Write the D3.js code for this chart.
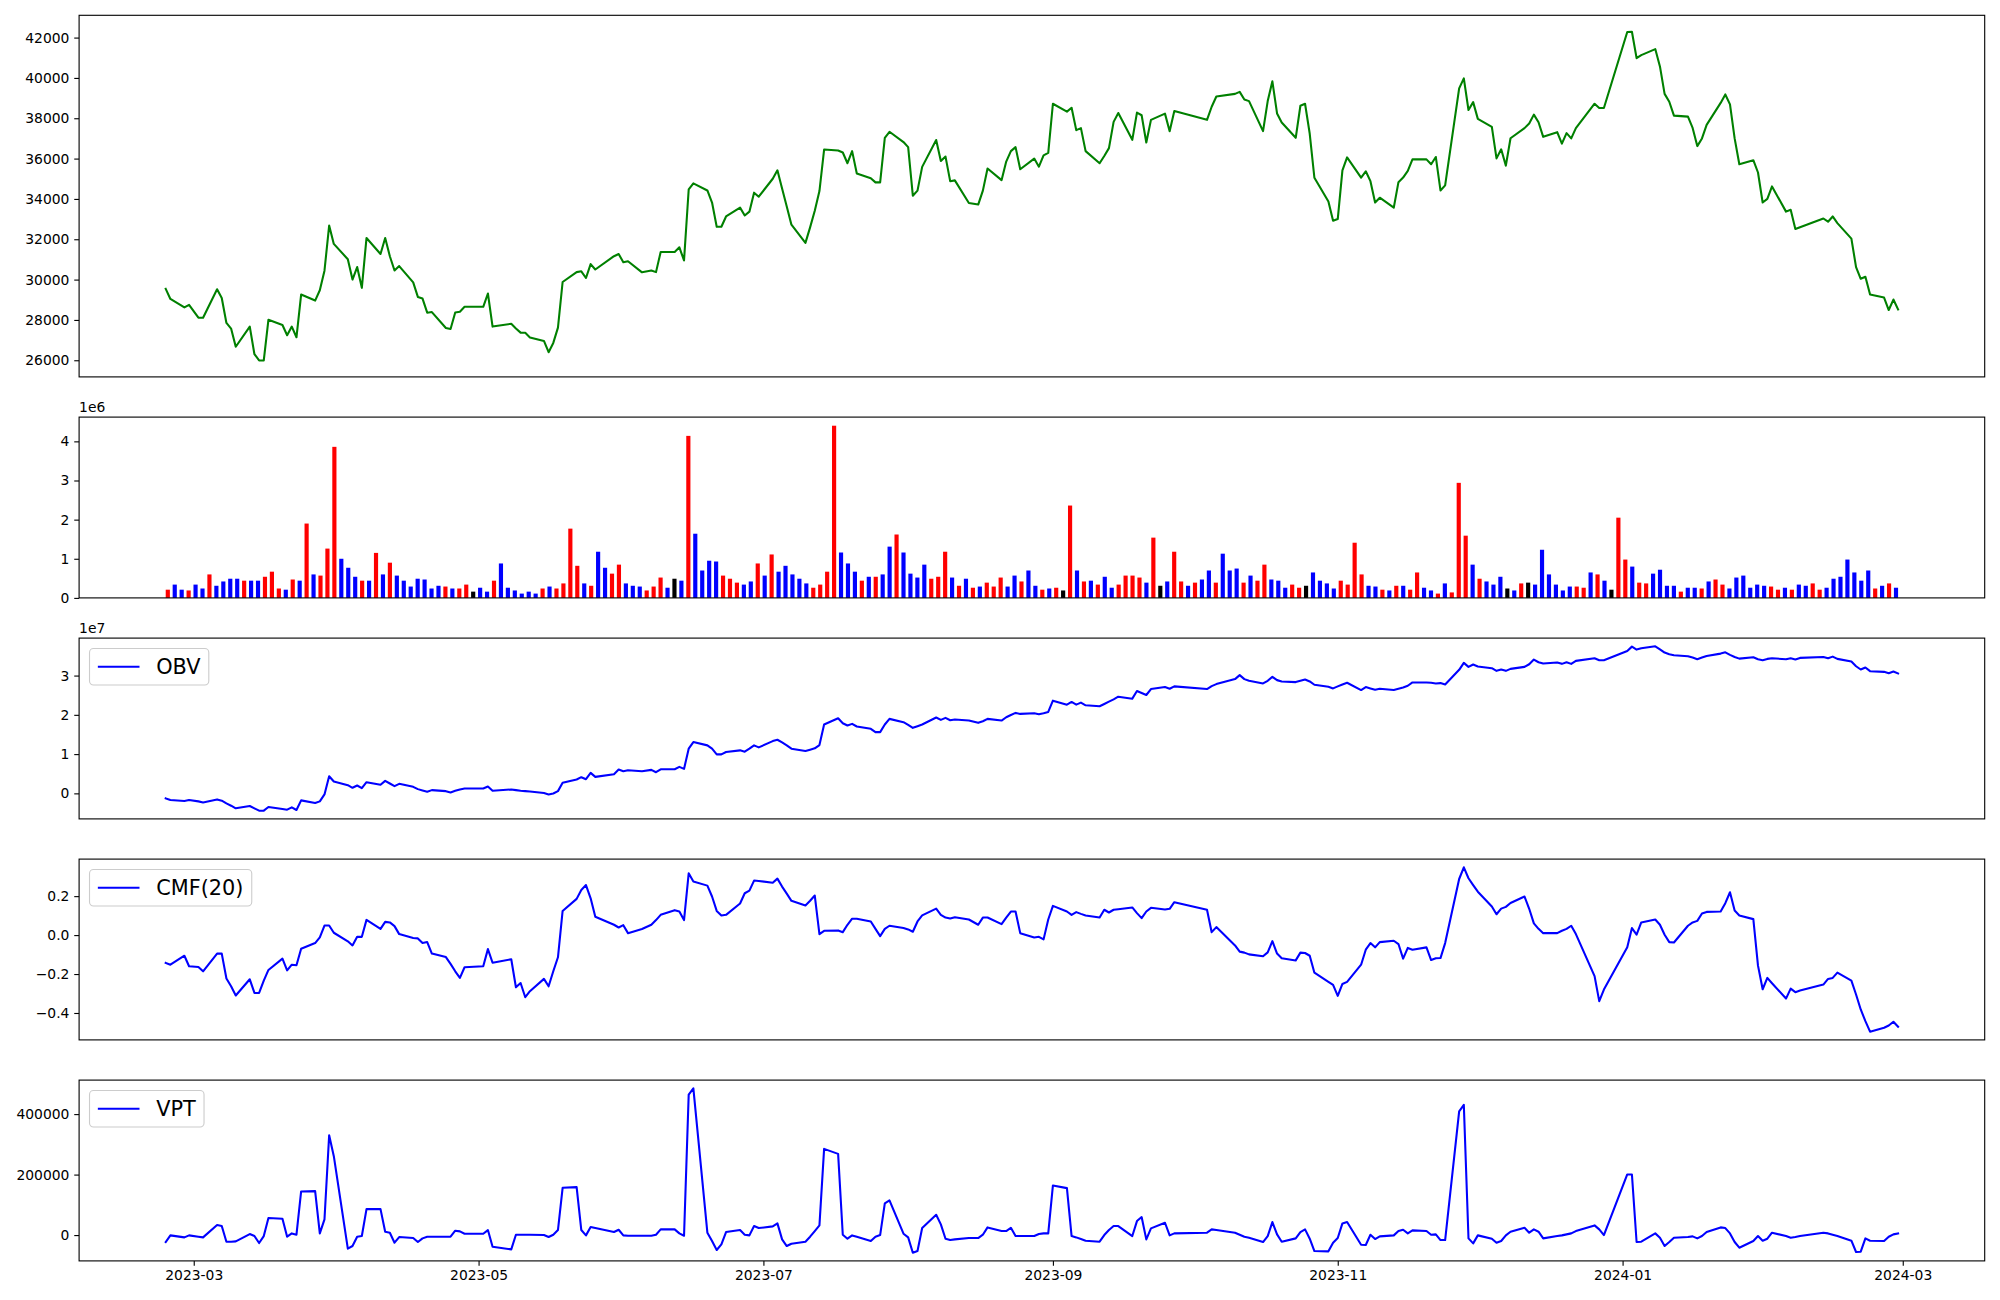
<!DOCTYPE html>
<html><head><meta charset="utf-8">
<script src="https://cdn.jsdelivr.net/npm/d3@7"></script>
<style>
body{margin:0;background:#fff}
svg{display:block}
text{font-family:"DejaVu Sans",sans-serif;fill:#000}
</style>
</head><body>
<svg id="c" width="2000" height="1300"></svg>
<script>
// ---------------- DATA ----------------
// trading days (KRX calendar) per month
const monthDays = [
 ["2023-02",[23,24,27,28]],
 ["2023-03",[2,3,6,7,8,9,10,13,14,15,16,17,20,21,22,23,24,27,28,29,30,31]],
 ["2023-04",[3,4,5,6,7,10,11,12,13,14,17,18,19,20,21,24,25,26,27,28]],
 ["2023-05",[2,3,4,8,9,10,11,12,15,16,17,18,19,22,23,24,25,26,30,31]],
 ["2023-06",[1,2,5,7,8,9,12,13,14,15,16,19,20,21,22,23,26,27,28,29,30]],
 ["2023-07",[3,4,5,6,7,10,11,12,13,14,17,18,19,20,21,24,25,26,27,28,31]],
 ["2023-08",[1,2,3,4,7,8,9,10,11,14,16,17,18,21,22,23,24,25,28,29,30,31]],
 ["2023-09",[1,4,5,6,7,8,11,12,13,14,15,18,19,20,21,22,25,26,27]],
 ["2023-10",[4,5,6,10,11,12,13,16,17,18,19,20,23,24,25,26,27,30,31]],
 ["2023-11",[1,2,3,6,7,8,9,10,13,14,15,16,17,20,21,22,23,24,27,28,29,30]],
 ["2023-12",[1,4,5,6,7,8,11,12,13,14,15,18,19,20,21,22,26,27,28]],
 ["2024-01",[2,3,4,5,8,9,10,11,12,15,16,17,18,19,22,23,24,25,26,29,30,31]],
 ["2024-02",[1,2,5,6,7,8,13,14,15,16,19,20,21,22,23,26,27,28,29]]
];

const closePrice = [
29540,29040,28620,28750,28110,28110,29520,29090,27850,27570,
26670,27670,26300,25990,25990,28010,27750,27240,27670,27140,
29260,28960,29470,30440,32680,31770,31010,30000,30620,29590,
32060,31270,32060,31160,30450,30670,29860,29140,29060,28360,
28390,27600,27550,28370,28410,28650,28650,29310,27670,27810,
27580,27370,27360,27130,26960,26400,26860,27620,29880,30370,
30410,30080,30770,30500,31160,31270,30860,30910,30360,30450,
30370,31370,31370,31600,30950,34470,34770,34420,33820,32620,
32620,33130,33570,33180,33370,34310,34110,35000,35420,34520,
33620,32720,31820,32590,33410,34390,36450,36400,36300,35770,
36370,35260,35030,34820,34820,37030,37330,36820,36570,34160,
34410,35590,36920,35880,36100,34880,34920,33800,33720,34410,
35510,34930,35850,36370,36570,35470,36000,35600,36160,36280,
38720,38330,38520,37410,37510,36370,35770,36130,36520,37820,
38260,36930,38280,38150,36800,37920,38230,37360,38360,37920,
38570,39080,39210,39310,38930,38850,37360,38850,39830,38240,
37790,37030,38620,38720,37230,35050,33870,32920,33000,35420,
36060,35060,35370,34880,33820,34060,33570,34830,35060,35390,
35960,35960,35720,36080,34420,34670,39480,39980,38410,38800,
37970,37570,36010,36460,35650,37010,37510,37740,38180,37800,
37080,37310,36740,37260,37000,37510,38720,38510,38510,42280,
42290,40980,41130,41430,40570,39210,38820,38130,38080,37520,
36620,37000,37670,38760,39180,38690,37000,35720,35920,35310,
33820,34000,34620,33370,33460,32510,32600,33030,32870,33130,
32800,32030,30620,30040,30140,29260,29110,28490,29010,28520
];

const volume = [
210000,340000,210000,190000,340000,240000,600000,310000,420000,490000,
490000,440000,440000,440000,540000,670000,240000,210000,470000,440000,
1900000,600000,570000,1260000,3860000,1000000,770000,540000,440000,440000,
1150000,600000,900000,570000,440000,290000,490000,470000,240000,310000,
290000,240000,240000,340000,160000,260000,160000,440000,880000,260000,
190000,110000,160000,110000,240000,290000,240000,370000,1770000,820000,
370000,310000,1180000,770000,620000,850000,370000,310000,290000,190000,
290000,520000,260000,490000,440000,4140000,1640000,700000,950000,930000,
570000,490000,390000,340000,420000,880000,570000,1110000,670000,820000,
600000,490000,370000,260000,340000,670000,4400000,1160000,880000,670000,
440000,540000,540000,600000,1310000,1620000,1160000,620000,520000,850000,
490000,540000,1180000,520000,310000,490000,260000,290000,390000,290000,
520000,290000,570000,420000,700000,310000,210000,240000,260000,190000,
2360000,700000,420000,440000,340000,540000,260000,340000,570000,570000,
520000,390000,1540000,310000,420000,1180000,420000,310000,390000,470000,
700000,390000,1130000,700000,750000,390000,570000,440000,850000,470000,
440000,260000,340000,260000,310000,650000,440000,370000,240000,440000,
340000,1410000,600000,310000,290000,210000,190000,310000,310000,210000,
650000,260000,190000,110000,370000,140000,2940000,1590000,850000,490000,
420000,340000,540000,240000,190000,370000,390000,340000,1230000,600000,
340000,190000,290000,290000,260000,650000,600000,440000,210000,2050000,
980000,800000,390000,370000,620000,720000,310000,310000,160000,260000,
260000,240000,420000,470000,340000,240000,520000,570000,260000,340000,
310000,290000,210000,260000,210000,340000,310000,370000,210000,260000,
490000,540000,980000,650000,440000,700000,240000,310000,370000,260000
];

// candle direction of each session: u = up, d = down, f = unchanged
const volumeDir = (
"u d d u d d u d d d " + "d u d d u u u d u d " +
"u d u u u d d d u d " + "u d u d d d d d d d " +
"u d u u f d d u d d " + "d d d d u d u u u u " +
"d u d d u u d d d u " + "u u d f d u d d d d " +
"u u u d d u d u d d " + "d d d u u u u d d d " +
"u d u d d u d d d d " + "u u u d u d u d u u " +
"u d d u d d u d u f " + "u d u d u d d u u u " +
"u d u f d u u d u d " + "d u d d d u d u u d " +
"d d u u f d d d d u " + "u u u d d u d u d u " +
"u d d u d u u u d u " + "d d d f d u f d d d " +
"d d d u u d u d f u " + "u d u u d d d d u d " +
"d u d u u d d d d d " + "d u u d u d d u u d " +
"d d d d d d u d u d").trim().split(/\s+/);

// On-Balance Volume, units of 1e7
const obv = [
-0.128,-0.170,-0.196,-0.170,-0.204,-0.230,-0.154,-0.187,-0.255,-0.314,
-0.381,-0.322,-0.381,-0.441,-0.441,-0.348,-0.398,-0.415,-0.356,-0.424,
-0.179,-0.246,-0.204,-0.027,0.437,0.302,0.209,0.142,0.201,0.133,
0.285,0.218,0.319,0.251,0.184,0.243,0.167,0.108,0.074,0.041,
0.083,0.057,0.024,0.066,0.100,0.125,0.125,0.176,0.066,0.100,
0.083,0.066,0.057,0.049,0.007,-0.027,-0.002,0.057,0.268,0.353,
0.412,0.361,0.522,0.420,0.488,0.606,0.564,0.589,0.564,0.598,
0.538,0.614,0.614,0.674,0.623,1.138,1.307,1.222,1.138,0.994,
0.994,1.053,1.095,1.062,1.138,1.222,1.171,1.331,1.365,1.297,
1.222,1.138,1.078,1.112,1.146,1.230,1.753,1.914,1.787,1.728,
1.770,1.703,1.644,1.559,1.559,1.753,1.897,1.813,1.745,1.669,
1.711,1.753,1.931,1.872,1.922,1.863,1.880,1.855,1.796,1.838,
1.897,1.855,1.939,1.997,2.049,2.024,2.040,2.015,2.040,2.074,
2.361,2.260,2.328,2.260,2.311,2.243,2.218,2.277,2.336,2.395,
2.462,2.412,2.606,2.555,2.505,2.657,2.707,2.665,2.724,2.657,
2.732,2.783,2.910,3.011,2.910,2.867,2.800,2.867,2.969,2.884,
2.851,2.834,2.867,2.901,2.851,2.766,2.716,2.673,2.724,2.774,
2.816,2.631,2.707,2.673,2.640,2.665,2.631,2.665,2.698,2.741,
2.825,2.825,2.816,2.800,2.808,2.774,3.146,3.323,3.222,3.281,
3.230,3.188,3.120,3.154,3.120,3.171,3.222,3.289,3.407,3.340,
3.306,3.331,3.298,3.340,3.298,3.374,3.441,3.391,3.391,3.627,
3.737,3.661,3.694,3.745,3.669,3.585,3.542,3.517,3.492,3.458,
3.416,3.458,3.500,3.559,3.593,3.526,3.475,3.432,3.466,3.416,
3.391,3.425,3.441,3.416,3.441,3.408,3.450,3.475,3.441,3.483,
3.425,3.357,3.238,3.154,3.205,3.112,3.095,3.061,3.103,3.053
];
const OBV_UNIT = 1e7;

// Chaikin Money Flow (20)
const cmf = [
-0.143,-0.152,-0.106,-0.160,-0.164,-0.186,-0.095,-0.095,-0.223,-0.263,
-0.310,-0.227,-0.297,-0.297,-0.234,-0.179,-0.121,-0.181,-0.152,-0.155,
-0.070,-0.041,-0.012,0.049,0.049,0.012,-0.032,-0.053,-0.009,-0.009,
0.078,0.032,0.068,0.065,0.046,0.005,-0.015,-0.017,-0.041,-0.036,
-0.095,-0.113,-0.148,-0.186,-0.220,-0.165,-0.160,-0.072,-0.142,-0.124,
-0.268,-0.246,-0.319,-0.288,-0.225,-0.263,-0.186,-0.114,0.124,0.186,
0.232,0.257,0.189,0.094,0.053,0.039,0.051,0.010,0.031,0.053,
0.077,0.104,0.128,0.121,0.077,0.317,0.275,0.254,0.198,0.124,
0.101,0.104,0.162,0.215,0.228,0.280,0.278,0.269,0.290,0.249,
0.213,0.176,0.152,0.176,0.203,0.005,0.022,0.024,0.015,0.053,
0.084,0.084,0.070,0.032,-0.005,0.032,0.048,0.036,0.029,0.017,
0.070,0.101,0.136,0.104,0.090,0.085,0.092,0.080,0.053,0.090,
0.090,0.056,0.090,0.121,0.121,0.010,-0.012,-0.009,-0.022,0.080,
0.150,0.121,0.104,0.118,0.109,0.101,0.090,0.130,0.116,0.130,
0.133,0.142,0.113,0.087,0.121,0.140,0.131,0.135,0.169,0.130,
0.015,0.041,-0.053,-0.085,-0.090,-0.099,-0.109,-0.089,-0.031,-0.095,
-0.119,-0.130,-0.090,-0.092,-0.106,-0.193,-0.240,-0.256,-0.312,-0.251,
-0.240,-0.152,-0.075,-0.041,-0.063,-0.036,-0.029,-0.046,-0.121,-0.066,
-0.075,-0.063,-0.128,-0.119,-0.118,-0.041,0.288,0.348,0.292,0.257,
0.223,0.147,0.107,0.136,0.145,0.165,0.198,0.135,0.060,0.032,
0.010,0.010,0.022,0.032,0.048,0.005,-0.211,-0.339,-0.280,-0.063,
0.036,0.002,0.065,0.080,0.053,0.002,-0.036,-0.038,0.048,0.065,
0.073,0.111,0.119,0.121,0.164,0.220,0.126,0.101,0.082,-0.157,
-0.278,-0.220,-0.247,-0.326,-0.275,-0.293,-0.285,-0.254,-0.225,-0.220,
-0.193,-0.234,-0.305,-0.382,-0.442,-0.496,-0.476,-0.464,-0.445,-0.471
];

// Volume Price Trend
const vpt = [
-22990,-990,-7590,-990,-5390,-7590,33110,29810,-21890,-21890,
-20790,3410,-3190,-26290,-3190,56220,54020,-5390,5610,1210,
144220,145320,5610,51810,330110,260810,-44990,-36190,-5390,-3190,
85920,85920,11110,7810,-25190,-6490,-9790,-22990,-10890,-5390,
-5390,-5390,-5390,14410,12210,4510,4510,16610,-38390,-47190,
1210,1210,1210,1210,110,-6490,1210,16610,156320,158520,
16610,-990,26510,23210,10010,17710,-990,-2090,-2090,-2090,
1210,18810,18810,5610,-2090,464340,485240,7810,-19690,-49390,
-30690,10010,16610,1210,-990,29810,23210,28710,38610,-14190,
-36190,-28490,-21890,-5390,13310,32010,285040,268540,1210,-11990,
-990,-5390,-19690,-5390,110,104620,114520,4510,-7590,-58190,
-52690,23210,67210,35310,-11990,-16390,-14190,-9790,-9790,1210,
25410,13310,13310,24310,-3190,-3190,-3190,3410,5610,5610,
164030,155220,-3190,-7590,-13090,-18590,-21890,110,16610,29810,
29810,-3190,46320,59520,-14190,22110,40810,-990,5610,7810,
18810,16610,7810,1210,-5390,-8690,-22990,-3190,43010,2310,
-21890,-10890,10010,18810,-11990,-52690,-53790,-25190,-9790,38610,
43010,-31790,-32890,1210,-13090,-4290,-990,13310,17710,5610,
15510,13310,1210,2310,-16390,-16390,409360,430260,-10890,-27390,
-990,-11990,-25190,-19690,-990,11110,24310,7810,18810,11110,
-10890,-3190,-990,2310,5610,13310,32010,18810,110,200330,
200330,-22990,-21890,5610,-8690,-36190,-22990,-8690,-6490,-4290,
-10890,-3190,10010,25410,23210,5610,-22990,-41690,-19690,-3190,
-18590,-11990,7810,-3190,-8690,-6490,-3190,7810,5610,1210,
-3190,-18590,-56000,-54990,-10890,-18590,-19690,-5390,2310,5610
];

const priceTicks = [26000,28000,30000,32000,34000,36000,38000,40000,42000];
const volTicks = [0,1e6,2e6,3e6,4e6];
const obvTicks = [0,1e7,2e7,3e7];
const cmfTicks = [-0.4,-0.2,0.0,0.2];
const vptTicks = [0,200000,400000];
const xTickMonths = ["2023-03","2023-05","2023-07","2023-09","2023-11","2024-01","2024-03"];

// ---------------- LAYOUT ----------------
const L = 79.1, R = 1984.7;
const panels = [
  {top:15.3,  h:361.6},
  {top:417.1, h:180.8},
  {top:638.1, h:180.8},
  {top:859.1, h:180.8},
  {top:1080.1,h:180.8}
];
const FS_TICK = 13.89, FS_LEG = 20.83, TICK_LEN = 4.86, TICK_PAD = 4.86;
const LW = 2.08;
const BAR_W = 0.6;
const COL = {u:"#ff0000", d:"#0000ff", f:"#000000"};

const svg = d3.select("#c");
svg.append("rect").attr("width",2000).attr("height",1300).attr("fill","#fff");

const dates = monthDays.flatMap(([m, ds]) => ds.map(d => new Date(`${m}-${String(d).padStart(2,"0")}T00:00:00Z`)));
const n = dates.length;
const t0 = +dates[0], t1 = +dates[n-1], span = t1 - t0;
const xDate = d3.scaleUtc().domain([new Date(t0 - 0.05*span), new Date(t1 + 0.05*span)]).range([L, R]);
const idxSpan = (n - 1) + BAR_W;
const xIdx = d3.scaleLinear().domain([-BAR_W/2 - 0.05*idxSpan, (n-1) + BAR_W/2 + 0.05*idxSpan]).range([L, R]);

function padded(vals){
  const [a,b] = d3.extent(vals); const m = (b-a)*0.05; return [a-m, b+m];
}
function yScale(p, domain){ return d3.scaleLinear().domain(domain).range([p.top + p.h, p.top]); }

function yAxis(p, y, ticks, fmt){
  const g = svg.append("g").attr("transform", `translate(${L},0)`)
    .call(d3.axisLeft(y).tickValues(ticks).tickFormat(fmt).tickSize(TICK_LEN).tickPadding(TICK_PAD).tickSizeOuter(0));
  g.select(".domain").remove();
  g.selectAll(".tick line").attr("stroke","#000").attr("stroke-width",1.11);
  g.selectAll(".tick text").attr("font-size",FS_TICK).attr("font-family","DejaVu Sans").attr("fill","#000");
  return g;
}
function frame(p){
  svg.append("rect").attr("x",L).attr("y",p.top).attr("width",R-L).attr("height",p.h)
    .attr("fill","none").attr("stroke","#000").attr("stroke-width",1.11);
}
function drawLine(vals, y, color){
  const line = d3.line().x((d,i)=>xDate(dates[i])).y(d=>y(d));
  svg.append("path").datum(vals).attr("d",line).attr("fill","none")
    .attr("stroke",color).attr("stroke-width",LW).attr("stroke-linejoin","round").attr("stroke-linecap","square");
}
function legend(p, label){
  const fs = FS_LEG, pad = 0.4*fs, hl = 2*fs, htp = 0.8*fs;
  const x0 = L + 0.5*fs, y0 = p.top + 0.5*fs, hgt = 1.75*fs;
  const g = svg.append("g");
  const rect = g.append("rect");
  const t = g.append("text").text(label).attr("font-size",fs).attr("font-family","DejaVu Sans")
    .attr("x", x0 + pad + hl + htp).attr("y", y0 + hgt/2).attr("dominant-baseline","central");
  const tw = t.node().getComputedTextLength();
  rect.attr("x",x0).attr("y",y0).attr("width",pad+hl+htp+tw+pad).attr("height",hgt)
    .attr("rx",4).attr("fill","#fff").attr("fill-opacity",0.8).attr("stroke","#cccccc").attr("stroke-width",1.1);
  g.append("line").attr("x1",x0+pad).attr("x2",x0+pad+hl).attr("y1",y0+hgt/2).attr("y2",y0+hgt/2)
    .attr("stroke","#0000ff").attr("stroke-width",LW);
}
function offsetText(p, txt){
  svg.append("text").attr("x",L).attr("y",p.top-5).attr("font-size",FS_TICK).attr("font-family","DejaVu Sans").text(txt);
}

// ---- Panel 1: price
{
  const p = panels[0];
  const y = yScale(p, padded(closePrice));
  yAxis(p, y, priceTicks, d3.format("d"));
  drawLine(closePrice, y, "#008000");
  frame(p);
}
// ---- Panel 2: volume bars
{
  const p = panels[1];
  const y = yScale(p, [0, d3.max(volume)*1.05]);
  yAxis(p, y, volTicks, d => String(d/1e6));
  const bw = xIdx(BAR_W) - xIdx(0);
  svg.append("g").selectAll("rect").data(volume).join("rect")
    .attr("x",(d,i)=>xIdx(i)-bw/2).attr("width",bw)
    .attr("y",d=>y(d)).attr("height",d=>y(0)-y(d))
    .attr("fill",(d,i)=>COL[volumeDir[i]]);
  frame(p);
  offsetText(p, "1e6");
}
// ---- Panel 3: OBV
{
  const p = panels[2];
  const vals = obv.map(v => v*OBV_UNIT);
  const y = yScale(p, padded(vals));
  yAxis(p, y, obvTicks, d => String(d/1e7));
  drawLine(vals, y, "#0000ff");
  frame(p);
  offsetText(p, "1e7");
  legend(p, "OBV");
}
// ---- Panel 4: CMF
{
  const p = panels[3];
  const y = yScale(p, padded(cmf));
  yAxis(p, y, cmfTicks, d => (d < -1e-9 ? "\u2212" : "") + Math.abs(d).toFixed(1));
  drawLine(cmf, y, "#0000ff");
  frame(p);
  legend(p, "CMF(20)");
}
// ---- Panel 5: VPT + date axis
{
  const p = panels[4];
  const y = yScale(p, padded(vpt));
  yAxis(p, y, vptTicks, d3.format("d"));
  drawLine(vpt, y, "#0000ff");
  const gx = svg.append("g").attr("transform",`translate(0,${p.top+p.h})`)
    .call(d3.axisBottom(xDate).tickValues(xTickMonths.map(m=>new Date(m+"-01T00:00:00Z")))
      .tickFormat(d3.utcFormat("%Y-%m")).tickSize(TICK_LEN).tickPadding(TICK_PAD).tickSizeOuter(0));
  gx.select(".domain").remove();
  gx.selectAll(".tick line").attr("stroke","#000").attr("stroke-width",1.11);
  gx.selectAll(".tick text").attr("font-size",FS_TICK).attr("font-family","DejaVu Sans").attr("fill","#000");
  frame(p);
  legend(p, "VPT");
}
</script>
</body></html>
